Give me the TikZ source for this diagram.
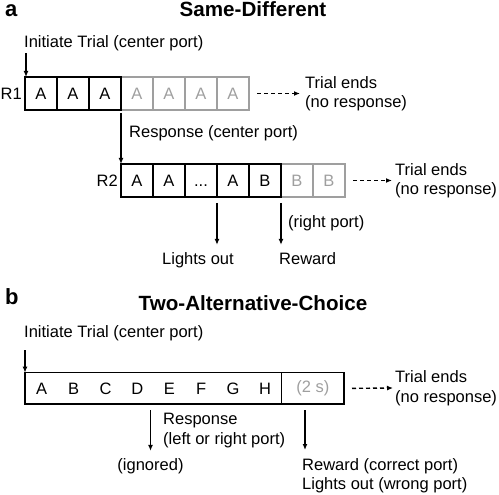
\documentclass[tikz,border=0pt]{standalone}
\usepackage{fontspec}
\setmainfont{Liberation Sans}
\usetikzlibrary{positioning,arrows.meta}

\begin{document}
\begin{tikzpicture}[
  x=1pt, y=-1pt,
  font=\fontsize{16.5}{19.5}\selectfont,
  %  Styles for the stimulus boxes
  box_style/.style={rectangle, draw=black, line width=1.4pt, minimum width=32pt, minimum height=33pt, inner sep=0pt, outer sep=0pt},
  grey_style/.style={box_style, draw=gray!75, text=gray!75},
  frame_style/.style={rectangle, draw=black, line width=1.4pt, inner sep=0pt, outer sep=0pt},
  %  Styles for arrows and texts
  arrow_style/.style={-{Latex[length=6pt,width=5pt]}, line width=1.3pt},
  dashed_style/.style={arrow_style, line width=1.4pt, dash pattern=on 4pt off 3pt},
  text_style/.style={inner sep=0pt, anchor=base west},
  note_style/.style={inner sep=0pt, align=left},
  title_style/.style={font=\fontsize{20.6}{24}\selectfont\bfseries, inner sep=0pt, anchor=base},
  panel_style/.style={font=\fontsize{22}{26}\selectfont\bfseries, inner sep=0pt, anchor=base west}
]
\useasboundingbox (0,0) rectangle (499,495);

%  Panel a
\node[panel_style] (panel_a) at (5,17) {a};
\node[title_style] (title_a) at (253,17) {Same-Different};
\node[text_style] (init_a) at (24,48) {Initiate Trial (center port)};

%  R1 row
\node[box_style] (r1b1) at (41,93.5) {A};
\node[box_style, right=0pt of r1b1] (r1b2) {A};
\node[box_style, right=0pt of r1b2] (r1b3) {A};
\node[grey_style, right=0pt of r1b3] (r1b4) {A};
\node[grey_style, right=0pt of r1b4] (r1b5) {A};
\node[grey_style, right=0pt of r1b5] (r1b6) {A};
\node[grey_style, right=0pt of r1b6] (r1b7) {A};
\draw[line width=1.4pt] (r1b1.north west) rectangle (r1b3.south east);
\node[anchor=east, inner sep=3pt] (r1) at (r1b1.west) {R1};
\node[note_style, anchor=west] (end_a1) at (305,93.5) {Trial ends\\(no response)};

\draw[arrow_style] ([xshift=2pt,yshift=-1.5pt]init_a.south west) -- ([xshift=2pt]init_a.south west |- r1b1.north);
\draw[dashed_style] ([xshift=8pt]r1b7.east) -- ([xshift=-5pt]end_a1.west);

%  R2 row
\node[text_style] (resp_a) at (129,138) {Response (center port)};
\node[box_style] (r2b1) at (137,180.5) {A};
\node[box_style, right=0pt of r2b1] (r2b2) {A};
\node[box_style, right=0pt of r2b2] (r2b3) {\vphantom{A}...};
\node[box_style, right=0pt of r2b3] (r2b4) {A};
\node[box_style, right=0pt of r2b4] (r2b5) {B};
\node[grey_style, right=0pt of r2b5] (r2b6) {B};
\node[grey_style, right=0pt of r2b6] (r2b7) {B};
\draw[line width=1.4pt] (r2b1.north west) rectangle (r2b5.south east);
\node[anchor=east, inner sep=3pt] (r2) at (r2b1.west) {R2};
\node[note_style, anchor=west] (end_a2) at (395,180.5) {Trial ends\\(no response)};

\draw[arrow_style] ([yshift=-3pt]r1b3.south east) -- (r2b1.north west);
\draw[dashed_style] ([xshift=8pt]r2b7.east) -- ([xshift=-3pt]end_a2.west);

%  Outcomes of R2
\node[inner sep=0pt, anchor=base] (lights_a) at (198,264) {Lights out};
\node[text_style] (reward_a) at (279,264) {Reward};
\node[text_style] (right_a) at (288,228) {(right port)};
\draw[arrow_style] ([yshift=-6pt]r2b3.south east) -- ([yshift=7pt]lights_a.north -| r2b3.south east);
\draw[arrow_style] ([yshift=-6pt]r2b5.south east) -- ([yshift=7pt]reward_a.north -| r2b5.south east);

%  Panel b
\node[panel_style] (panel_b) at (5,305) {b};
\node[title_style] (title_b) at (253,310) {Two-Alternative-Choice};
\node[text_style] (init_b) at (24,337) {Initiate Trial (center port)};

\node[frame_style, minimum width=256.7pt, minimum height=31.3pt] (seq) at (153.35,388.35) {};
\node[frame_style, minimum width=62.3pt, minimum height=31.3pt, text=gray!75] (timer) at (312.85,388.35) {(2 s)};
\node[inner sep=0pt] (sA) at (41.7,389) {A};
\node[inner sep=0pt] (sB) at (73.6,389) {B};
\node[inner sep=0pt] (sC) at (105.5,389) {C};
\node[inner sep=0pt] (sD) at (137.4,389) {D};
\node[inner sep=0pt] (sE) at (169.3,389) {E};
\node[inner sep=0pt] (sF) at (201.2,389) {F};
\node[inner sep=0pt] (sG) at (233.1,389) {G};
\node[inner sep=0pt] (sH) at (265,389) {H};
\node[note_style, anchor=west] (end_b) at (395,388) {Trial ends\\(no response)};

\draw[arrow_style] ([xshift=1pt,yshift=-9.5pt]init_b.south west) -- ([xshift=1pt]init_b.south west |- seq.north);
\draw[dashed_style] ([xshift=8pt]timer.east) -- ([xshift=-2pt]end_b.west);

%  Outcomes of the choice
\node[inner sep=0pt, anchor=base] (ignored_b) at (150.5,470) {(ignored)};
\node[note_style, anchor=north west] (resp_b) at (163,413) {Response\\(left or right port)};
\node[note_style, anchor=north west] (reward_b) at (302,458) {Reward (correct port)\\Lights out (wrong port)};
\draw[arrow_style] ([yshift=-6pt]seq.south -| ignored_b.north) -- ([yshift=7pt]ignored_b.north);
\draw[arrow_style] ([xshift=3pt]reward_b.north west |- timer.south) ++(0,6) -- ([xshift=3pt,yshift=8pt]reward_b.north west);
\end{tikzpicture}
\end{document}
